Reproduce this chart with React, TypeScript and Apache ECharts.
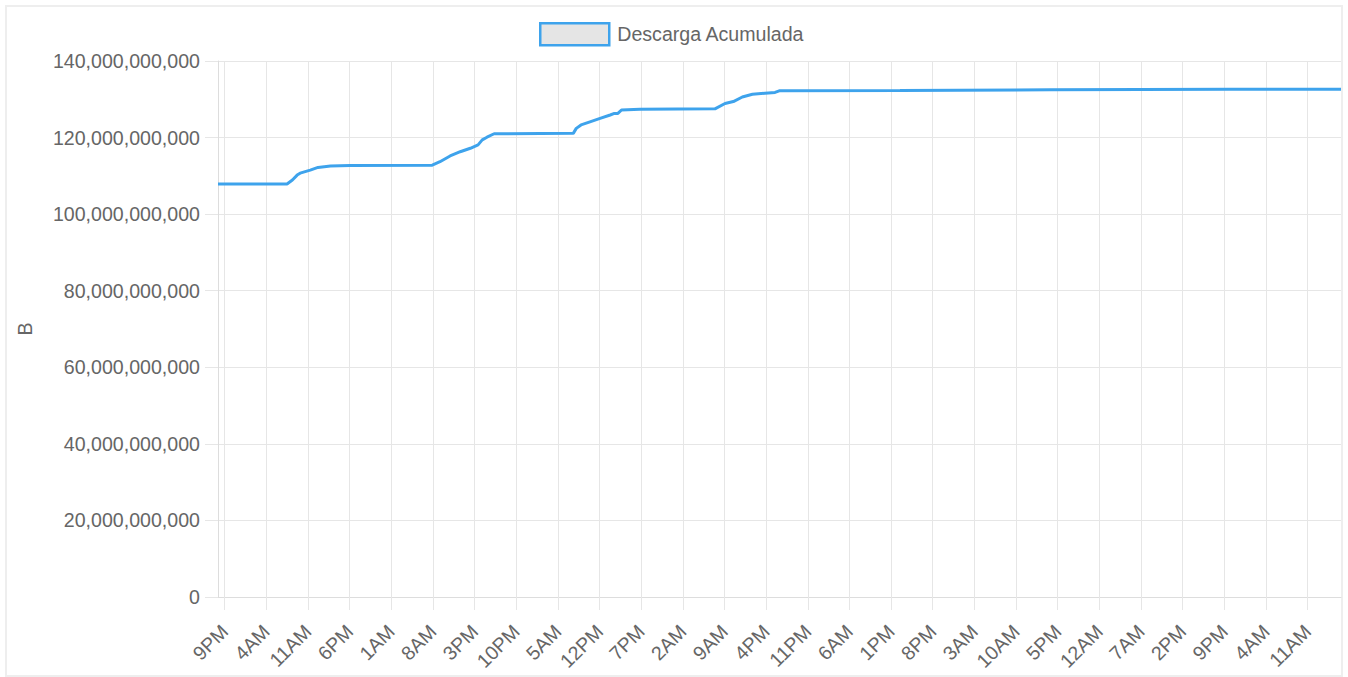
import React, { useEffect, useRef } from "react";
import * as echarts from "echarts";

const SERIES_NAME = "Descarga Acumulada";
const Y_AXIS_NAME = "B";

// hours counted from midnight before the first sample
const TIME_HOURS = [
  19.9, 31.5, 32.4, 33.2, 33.7, 35.4, 36.7, 38.8, 42.1, 55.9, 57.2, 58.9, 60.6,
  62.3, 63.6, 64.3, 65.1, 66.3, 79.6, 80.1, 80.9, 82.4, 84.1, 85.8, 86.5, 87.1,
  87.7, 90.8, 103.4, 105.1, 106.5, 108.0, 109.7, 111.8, 113.5, 114.2, 134.5,
  159.7, 190.0, 208.6,
];
// cumulative download, in billions of bytes
const DOWNLOAD_GB = [
  107.87, 107.87, 108.9, 110.2, 110.7, 111.5, 112.2, 112.6, 112.7, 112.8, 113.7,
  115.2, 116.3, 117.2, 118.1, 119.4, 120.1, 121.0, 121.1, 122.4, 123.3, 124.1,
  125.0, 125.9, 126.3, 126.3, 127.2, 127.4, 127.5, 128.9, 129.4, 130.6, 131.3,
  131.6, 131.8, 132.2, 132.3, 132.5, 132.6, 132.6,
];

const TICK_HOURS = [
  21, 28, 35, 42, 49, 56, 63, 70, 77, 84, 91, 98, 105, 112, 119, 126, 133, 140,
  147, 154, 161, 168, 175, 182, 189, 196, 203,
];
const TICK_LABELS = [
  "9PM", "4AM", "11AM", "6PM", "1AM", "8AM", "3PM", "10PM", "5AM", "12PM",
  "7PM", "2AM", "9AM", "4PM", "11PM", "6AM", "1PM", "8PM", "3AM", "10AM",
  "5PM", "12AM", "7AM", "2PM", "9PM", "4AM", "11AM",
];

const X_MIN = 19.9;
const X_MAX = 208.6;
const Y_MAX = 140e9;
const Y_STEP = 20e9;

const FONT = "'Liberation Sans', Arial, Helvetica, sans-serif";
const TEXT_COLOR = "#666666";
const GRID_COLOR = "#e6e6e6";
const LINE_COLOR = "#3ea3ec";

export default function App() {
  const ref = useRef<HTMLDivElement>(null);

  useEffect(() => {
    if (!ref.current) return;
    const chart = echarts.init(ref.current, undefined, { renderer: "svg" });
    const data = TIME_HOURS.map((h, i) => [h, DOWNLOAD_GB[i] * 1e9]);

    chart.setOption({
      animation: false,
      textStyle: { fontFamily: FONT },
      legend: {
        show: true,
        left: 539,
        top: 22,
        padding: 0,
        itemWidth: 69,
        itemHeight: 22,
        data: [
          {
            name: SERIES_NAME,
            icon: "rect",
            itemStyle: {
              color: "#e5e5e5",
              borderColor: LINE_COLOR,
              borderWidth: 2.5,
            },
          },
        ],
        textStyle: {
          fontFamily: FONT,
          fontSize: 19.6,
          color: TEXT_COLOR,
          padding: [0, 0, 0, 3],
        },
      },
      grid: {
        left: 218,
        right: 7,
        top: 61,
        bottom: 80,
        containLabel: false,
      },
      xAxis: {
        type: "value",
        min: X_MIN,
        max: X_MAX,
        axisLine: { show: true, lineStyle: { color: "#dddddd", width: 1 } },
        axisTick: {
          show: true,
          length: 13,
          customValues: TICK_HOURS,
          lineStyle: { color: GRID_COLOR },
        },
        axisLabel: {
          customValues: TICK_HOURS,
          rotate: 45,
          margin: 31,
          fontFamily: FONT,
          fontSize: 19.6,
          color: TEXT_COLOR,
          formatter: (v: number) => {
            const i = TICK_HOURS.findIndex((t) => Math.abs(t - v) < 1e-6);
            return i >= 0 ? TICK_LABELS[i] : "";
          },
        },
        splitLine: { show: true, lineStyle: { color: GRID_COLOR, width: 1 } },
      },
      yAxis: {
        type: "value",
        min: 0,
        max: Y_MAX,
        interval: Y_STEP,
        name: Y_AXIS_NAME,
        nameLocation: "middle",
        nameRotate: 90,
        nameGap: 183,
        nameTextStyle: { fontFamily: FONT, fontSize: 19.6, color: TEXT_COLOR },
        axisLine: { show: true, lineStyle: { color: "#dddddd", width: 1 } },
        axisTick: { show: true, length: 13, lineStyle: { color: GRID_COLOR } },
        axisLabel: {
          margin: 18,
          fontFamily: FONT,
          fontSize: 19.6,
          color: TEXT_COLOR,
          formatter: (v: number) => Math.round(v).toLocaleString("en-US"),
        },
        splitLine: { show: true, lineStyle: { color: GRID_COLOR, width: 1 } },
      },
      series: [
        {
          name: SERIES_NAME,
          type: "line",
          data,
          showSymbol: false,
          symbol: "none",
          smooth: false,
          lineStyle: { color: LINE_COLOR, width: 3 },
          itemStyle: { color: LINE_COLOR },
        },
      ],
    });

    return () => chart.dispose();
  }, []);

  return (
    <div style={{ position: "fixed", left: 0, top: 0, width: 1348, height: 677, background: "#ffffff" }}>
      <div
        style={{
          position: "absolute",
          left: 5,
          top: 5,
          width: 1338,
          height: 672,
          boxSizing: "border-box",
          border: "2px solid #eeeeee",
        }}
      />
      <div ref={ref} style={{ position: "absolute", left: 0, top: 0, width: 1348, height: 677 }} />
    </div>
  );
}
